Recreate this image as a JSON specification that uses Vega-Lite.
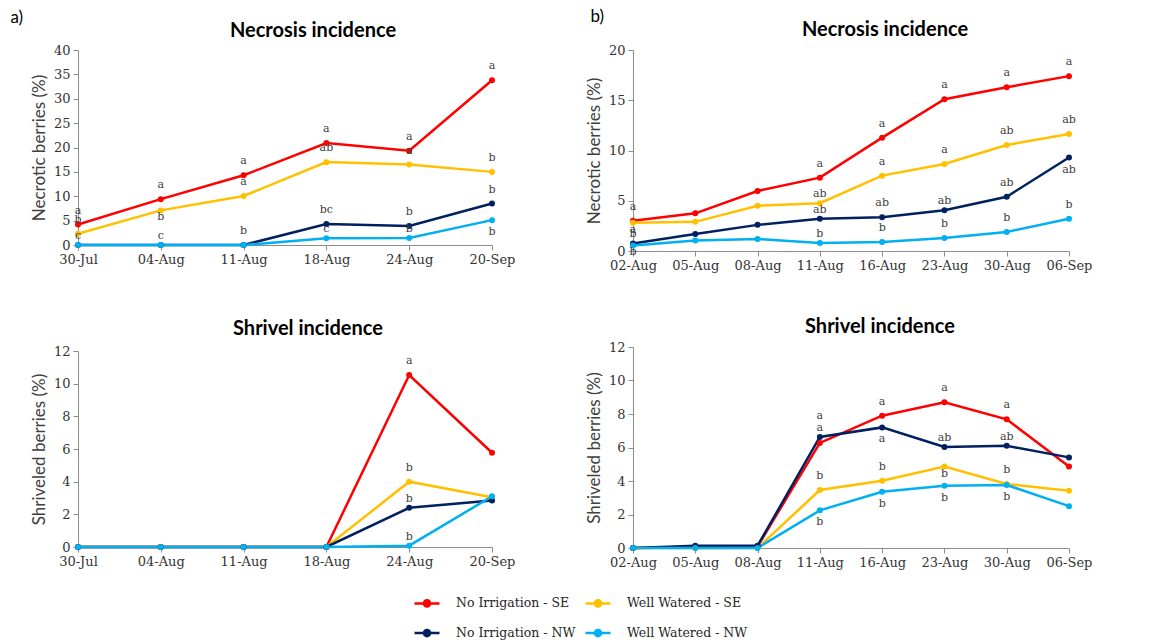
{
  "$schema": "https://vega.github.io/schema/vega-lite/v6.json",
  "background": "white",
  "padding": {"left": 10, "top": 8, "right": 5, "bottom": 5},
  "config": {
    "view": {"stroke": null},
    "axis": {"labelFont": "DejaVu Serif", "labelFontSize": 13, "labelColor": "#333333", "titleFont": "Lato", "titleFontSize": 17, "titleFontWeight": "normal", "titleColor": "#404040", "domainColor": "#8c8c8c", "tickColor": "#8c8c8c", "grid": false, "tickSize": 5, "labelPadding": 3},
    "axisX": {"labelAngle": 0, "title": null},
    "axisY": {"titlePadding": 5},
    "title": {"font": "Lato", "fontWeight": "bold", "fontSize": 20, "color": "#000000", "frame": "group"},
    "line": {"strokeWidth": 2.5},
    "point": {"filled": true, "size": 36, "opacity": 1},
    "text": {"font": "DejaVu Serif", "fontSize": 11, "color": "#404040", "baseline": "middle"}
  },
  "data": {"values": [
    {"panel": "aN", "date": "30-Jul", "series": "No Irrigation - SE", "value": 4.2, "letter": "a", "pos": "above"},
    {"panel": "aN", "date": "04-Aug", "series": "No Irrigation - SE", "value": 9.4, "letter": "a", "pos": "above"},
    {"panel": "aN", "date": "11-Aug", "series": "No Irrigation - SE", "value": 14.3, "letter": "a", "pos": "above"},
    {"panel": "aN", "date": "18-Aug", "series": "No Irrigation - SE", "value": 20.9, "letter": "a", "pos": "above"},
    {"panel": "aN", "date": "24-Aug", "series": "No Irrigation - SE", "value": 19.35, "letter": "a", "pos": "above"},
    {"panel": "aN", "date": "20-Sep", "series": "No Irrigation - SE", "value": 33.8, "letter": "a", "pos": "above"},
    {"panel": "aN", "date": "30-Jul", "series": "Well Watered - SE", "value": 2.3, "letter": "b", "pos": "above"},
    {"panel": "aN", "date": "04-Aug", "series": "Well Watered - SE", "value": 7.1, "letter": "b", "pos": "belownear"},
    {"panel": "aN", "date": "11-Aug", "series": "Well Watered - SE", "value": 10.05, "letter": "a", "pos": "above"},
    {"panel": "aN", "date": "18-Aug", "series": "Well Watered - SE", "value": 17.0, "letter": "ab", "pos": "above"},
    {"panel": "aN", "date": "24-Aug", "series": "Well Watered - SE", "value": 16.5, "letter": "a", "pos": "above"},
    {"panel": "aN", "date": "20-Sep", "series": "Well Watered - SE", "value": 15.0, "letter": "b", "pos": "above"},
    {"panel": "aN", "date": "30-Jul", "series": "No Irrigation - NW", "value": 0, "letter": null, "pos": null},
    {"panel": "aN", "date": "04-Aug", "series": "No Irrigation - NW", "value": 0, "letter": null, "pos": null},
    {"panel": "aN", "date": "11-Aug", "series": "No Irrigation - NW", "value": 0, "letter": null, "pos": null},
    {"panel": "aN", "date": "18-Aug", "series": "No Irrigation - NW", "value": 4.3, "letter": "bc", "pos": "above"},
    {"panel": "aN", "date": "24-Aug", "series": "No Irrigation - NW", "value": 3.9, "letter": "b", "pos": "above"},
    {"panel": "aN", "date": "20-Sep", "series": "No Irrigation - NW", "value": 8.5, "letter": "b", "pos": "above"},
    {"panel": "aN", "date": "30-Jul", "series": "Well Watered - NW", "value": 0, "letter": "c", "pos": "near"},
    {"panel": "aN", "date": "04-Aug", "series": "Well Watered - NW", "value": 0, "letter": "c", "pos": "near"},
    {"panel": "aN", "date": "11-Aug", "series": "Well Watered - NW", "value": 0, "letter": "b", "pos": "above"},
    {"panel": "aN", "date": "18-Aug", "series": "Well Watered - NW", "value": 1.4, "letter": "c", "pos": "near"},
    {"panel": "aN", "date": "24-Aug", "series": "Well Watered - NW", "value": 1.45, "letter": "b", "pos": "near"},
    {"panel": "aN", "date": "20-Sep", "series": "Well Watered - NW", "value": 5.1, "letter": "b", "pos": "below"},

    {"panel": "aS", "date": "30-Jul", "series": "No Irrigation - SE", "value": 0, "letter": null, "pos": null},
    {"panel": "aS", "date": "04-Aug", "series": "No Irrigation - SE", "value": 0, "letter": null, "pos": null},
    {"panel": "aS", "date": "11-Aug", "series": "No Irrigation - SE", "value": 0, "letter": null, "pos": null},
    {"panel": "aS", "date": "18-Aug", "series": "No Irrigation - SE", "value": 0, "letter": null, "pos": null},
    {"panel": "aS", "date": "24-Aug", "series": "No Irrigation - SE", "value": 10.53, "letter": "a", "pos": "above"},
    {"panel": "aS", "date": "20-Sep", "series": "No Irrigation - SE", "value": 5.77, "letter": null, "pos": null},
    {"panel": "aS", "date": "30-Jul", "series": "Well Watered - SE", "value": 0, "letter": null, "pos": null},
    {"panel": "aS", "date": "04-Aug", "series": "Well Watered - SE", "value": 0, "letter": null, "pos": null},
    {"panel": "aS", "date": "11-Aug", "series": "Well Watered - SE", "value": 0, "letter": null, "pos": null},
    {"panel": "aS", "date": "18-Aug", "series": "Well Watered - SE", "value": 0, "letter": null, "pos": null},
    {"panel": "aS", "date": "24-Aug", "series": "Well Watered - SE", "value": 4.0, "letter": "b", "pos": "above"},
    {"panel": "aS", "date": "20-Sep", "series": "Well Watered - SE", "value": 3.05, "letter": null, "pos": null},
    {"panel": "aS", "date": "30-Jul", "series": "No Irrigation - NW", "value": 0, "letter": null, "pos": null},
    {"panel": "aS", "date": "04-Aug", "series": "No Irrigation - NW", "value": 0, "letter": null, "pos": null},
    {"panel": "aS", "date": "11-Aug", "series": "No Irrigation - NW", "value": 0, "letter": null, "pos": null},
    {"panel": "aS", "date": "18-Aug", "series": "No Irrigation - NW", "value": 0, "letter": null, "pos": null},
    {"panel": "aS", "date": "24-Aug", "series": "No Irrigation - NW", "value": 2.4, "letter": "b", "pos": "near"},
    {"panel": "aS", "date": "20-Sep", "series": "No Irrigation - NW", "value": 2.85, "letter": null, "pos": null},
    {"panel": "aS", "date": "30-Jul", "series": "Well Watered - NW", "value": 0, "letter": null, "pos": null},
    {"panel": "aS", "date": "04-Aug", "series": "Well Watered - NW", "value": 0, "letter": null, "pos": null},
    {"panel": "aS", "date": "11-Aug", "series": "Well Watered - NW", "value": 0, "letter": null, "pos": null},
    {"panel": "aS", "date": "18-Aug", "series": "Well Watered - NW", "value": 0, "letter": null, "pos": null},
    {"panel": "aS", "date": "24-Aug", "series": "Well Watered - NW", "value": 0.08, "letter": "b", "pos": "near"},
    {"panel": "aS", "date": "20-Sep", "series": "Well Watered - NW", "value": 3.1, "letter": null, "pos": null},

    {"panel": "bN", "date": "02-Aug", "series": "No Irrigation - SE", "value": 3.0, "letter": "a", "pos": "above"},
    {"panel": "bN", "date": "05-Aug", "series": "No Irrigation - SE", "value": 3.75, "letter": null, "pos": null},
    {"panel": "bN", "date": "08-Aug", "series": "No Irrigation - SE", "value": 5.97, "letter": null, "pos": null},
    {"panel": "bN", "date": "11-Aug", "series": "No Irrigation - SE", "value": 7.3, "letter": "a", "pos": "above"},
    {"panel": "bN", "date": "16-Aug", "series": "No Irrigation - SE", "value": 11.28, "letter": "a", "pos": "above"},
    {"panel": "bN", "date": "23-Aug", "series": "No Irrigation - SE", "value": 15.1, "letter": "a", "pos": "above"},
    {"panel": "bN", "date": "30-Aug", "series": "No Irrigation - SE", "value": 16.3, "letter": "a", "pos": "above"},
    {"panel": "bN", "date": "06-Sep", "series": "No Irrigation - SE", "value": 17.4, "letter": "a", "pos": "above"},
    {"panel": "bN", "date": "02-Aug", "series": "Well Watered - SE", "value": 2.8, "letter": "a", "pos": "belownear"},
    {"panel": "bN", "date": "05-Aug", "series": "Well Watered - SE", "value": 2.9, "letter": null, "pos": null},
    {"panel": "bN", "date": "08-Aug", "series": "Well Watered - SE", "value": 4.5, "letter": null, "pos": null},
    {"panel": "bN", "date": "11-Aug", "series": "Well Watered - SE", "value": 4.75, "letter": "ab", "pos": "near"},
    {"panel": "bN", "date": "16-Aug", "series": "Well Watered - SE", "value": 7.5, "letter": "a", "pos": "above"},
    {"panel": "bN", "date": "23-Aug", "series": "Well Watered - SE", "value": 8.65, "letter": "a", "pos": "above"},
    {"panel": "bN", "date": "30-Aug", "series": "Well Watered - SE", "value": 10.55, "letter": "ab", "pos": "above"},
    {"panel": "bN", "date": "06-Sep", "series": "Well Watered - SE", "value": 11.65, "letter": "ab", "pos": "above"},
    {"panel": "bN", "date": "02-Aug", "series": "No Irrigation - NW", "value": 0.75, "letter": "b", "pos": "near"},
    {"panel": "bN", "date": "05-Aug", "series": "No Irrigation - NW", "value": 1.7, "letter": null, "pos": null},
    {"panel": "bN", "date": "08-Aug", "series": "No Irrigation - NW", "value": 2.6, "letter": null, "pos": null},
    {"panel": "bN", "date": "11-Aug", "series": "No Irrigation - NW", "value": 3.2, "letter": "ab", "pos": "near"},
    {"panel": "bN", "date": "16-Aug", "series": "No Irrigation - NW", "value": 3.35, "letter": "ab", "pos": "above"},
    {"panel": "bN", "date": "23-Aug", "series": "No Irrigation - NW", "value": 4.05, "letter": "ab", "pos": "near"},
    {"panel": "bN", "date": "30-Aug", "series": "No Irrigation - NW", "value": 5.4, "letter": "ab", "pos": "above"},
    {"panel": "bN", "date": "06-Sep", "series": "No Irrigation - NW", "value": 9.3, "letter": "ab", "pos": "below"},
    {"panel": "bN", "date": "02-Aug", "series": "Well Watered - NW", "value": 0.55, "letter": "b", "pos": "belownear"},
    {"panel": "bN", "date": "05-Aug", "series": "Well Watered - NW", "value": 1.05, "letter": null, "pos": null},
    {"panel": "bN", "date": "08-Aug", "series": "Well Watered - NW", "value": 1.2, "letter": null, "pos": null},
    {"panel": "bN", "date": "11-Aug", "series": "Well Watered - NW", "value": 0.8, "letter": "b", "pos": "near"},
    {"panel": "bN", "date": "16-Aug", "series": "Well Watered - NW", "value": 0.9, "letter": "b", "pos": "above"},
    {"panel": "bN", "date": "23-Aug", "series": "Well Watered - NW", "value": 1.3, "letter": "b", "pos": "above"},
    {"panel": "bN", "date": "30-Aug", "series": "Well Watered - NW", "value": 1.9, "letter": "b", "pos": "above"},
    {"panel": "bN", "date": "06-Sep", "series": "Well Watered - NW", "value": 3.2, "letter": "b", "pos": "above"},

    {"panel": "bS", "date": "02-Aug", "series": "No Irrigation - SE", "value": 0, "letter": null, "pos": null},
    {"panel": "bS", "date": "05-Aug", "series": "No Irrigation - SE", "value": 0.05, "letter": null, "pos": null},
    {"panel": "bS", "date": "08-Aug", "series": "No Irrigation - SE", "value": 0.1, "letter": null, "pos": null},
    {"panel": "bS", "date": "11-Aug", "series": "No Irrigation - SE", "value": 6.27, "letter": "a", "pos": "far"},
    {"panel": "bS", "date": "16-Aug", "series": "No Irrigation - SE", "value": 7.9, "letter": "a", "pos": "above"},
    {"panel": "bS", "date": "23-Aug", "series": "No Irrigation - SE", "value": 8.7, "letter": "a", "pos": "above"},
    {"panel": "bS", "date": "30-Aug", "series": "No Irrigation - SE", "value": 7.68, "letter": "a", "pos": "above"},
    {"panel": "bS", "date": "06-Sep", "series": "No Irrigation - SE", "value": 4.86, "letter": null, "pos": null},
    {"panel": "bS", "date": "02-Aug", "series": "Well Watered - SE", "value": 0, "letter": null, "pos": null},
    {"panel": "bS", "date": "05-Aug", "series": "Well Watered - SE", "value": 0, "letter": null, "pos": null},
    {"panel": "bS", "date": "08-Aug", "series": "Well Watered - SE", "value": 0, "letter": null, "pos": null},
    {"panel": "bS", "date": "11-Aug", "series": "Well Watered - SE", "value": 3.46, "letter": "b", "pos": "above"},
    {"panel": "bS", "date": "16-Aug", "series": "Well Watered - SE", "value": 4.02, "letter": "b", "pos": "above"},
    {"panel": "bS", "date": "23-Aug", "series": "Well Watered - SE", "value": 4.86, "letter": "b", "pos": "belownear"},
    {"panel": "bS", "date": "30-Aug", "series": "Well Watered - SE", "value": 3.82, "letter": "b", "pos": "above"},
    {"panel": "bS", "date": "06-Sep", "series": "Well Watered - SE", "value": 3.42, "letter": null, "pos": null},
    {"panel": "bS", "date": "02-Aug", "series": "No Irrigation - NW", "value": 0, "letter": null, "pos": null},
    {"panel": "bS", "date": "05-Aug", "series": "No Irrigation - NW", "value": 0.14, "letter": null, "pos": null},
    {"panel": "bS", "date": "08-Aug", "series": "No Irrigation - NW", "value": 0.14, "letter": null, "pos": null},
    {"panel": "bS", "date": "11-Aug", "series": "No Irrigation - NW", "value": 6.63, "letter": "a", "pos": "near"},
    {"panel": "bS", "date": "16-Aug", "series": "No Irrigation - NW", "value": 7.2, "letter": "a", "pos": "below"},
    {"panel": "bS", "date": "23-Aug", "series": "No Irrigation - NW", "value": 6.03, "letter": "ab", "pos": "near"},
    {"panel": "bS", "date": "30-Aug", "series": "No Irrigation - NW", "value": 6.1, "letter": "ab", "pos": "near"},
    {"panel": "bS", "date": "06-Sep", "series": "No Irrigation - NW", "value": 5.41, "letter": null, "pos": null},
    {"panel": "bS", "date": "02-Aug", "series": "Well Watered - NW", "value": 0, "letter": null, "pos": null},
    {"panel": "bS", "date": "05-Aug", "series": "Well Watered - NW", "value": 0, "letter": null, "pos": null},
    {"panel": "bS", "date": "08-Aug", "series": "Well Watered - NW", "value": 0, "letter": null, "pos": null},
    {"panel": "bS", "date": "11-Aug", "series": "Well Watered - NW", "value": 2.25, "letter": "b", "pos": "below"},
    {"panel": "bS", "date": "16-Aug", "series": "Well Watered - NW", "value": 3.36, "letter": "b", "pos": "below"},
    {"panel": "bS", "date": "23-Aug", "series": "Well Watered - NW", "value": 3.72, "letter": "b", "pos": "below"},
    {"panel": "bS", "date": "30-Aug", "series": "Well Watered - NW", "value": 3.76, "letter": "b", "pos": "below"},
    {"panel": "bS", "date": "06-Sep", "series": "Well Watered - NW", "value": 2.5, "letter": null, "pos": null}
  ]},
  "resolve": {"scale": {"color": "shared"}, "legend": {"color": "shared"}},
  "spacing": 70,
  "hconcat": [
    {
      "title": {"text": "a)", "anchor": "start", "font": "Lato", "fontWeight": "normal", "fontSize": 17, "frame": "bounds", "offset": -6, "dx": -20},
      "spacing": 53,
      "vconcat": [
        {
          "width": 414, "height": 195,
          "title": {"text": "Necrosis incidence", "dx": 28, "offset": 3},
          "transform": [{"filter": "datum.panel === 'aN'"}],
          "encoding": {
            "x": {"field": "date", "type": "ordinal", "sort": null, "scale": {"type": "point", "padding": 0}},
            "y": {"field": "value", "type": "quantitative", "scale": {"domain": [0, 40], "nice": false}, "axis": {"values": [0, 5, 10, 15, 20, 25, 30, 35, 40], "title": "Necrotic berries (%)"}}
          },
          "layer": [
            {"mark": "line", "encoding": {"color": {"field": "series", "type": "nominal", "scale": {"domain": ["No Irrigation - SE", "No Irrigation - NW", "Well Watered - SE", "Well Watered - NW"], "range": ["#FF0000", "#002060", "#FFC000", "#00B0F0"]}, "legend": {"title": null, "orient": "none", "legendX": 335, "legendY": 539, "columns": 2, "symbolType": "M-1,0H1M0.25,0A0.25,0.25,0,1,1,-0.25,0A0.25,0.25,0,1,1,0.25,0", "symbolSize": 625, "symbolStrokeWidth": 2.5, "labelFont": "DejaVu Serif", "labelFontSize": 12.5, "labelColor": "#262626", "rowPadding": 7, "columnPadding": 4, "labelOffset": 15, "labelLimit": 300, "encode": {"symbols": {"update": {"fill": {"scale": "color", "field": "value"}, "stroke": {"scale": "color", "field": "value"}}}}}}}},
            {"mark": "point", "encoding": {"color": {"field": "series", "type": "nominal", "scale": {"domain": ["No Irrigation - SE", "No Irrigation - NW", "Well Watered - SE", "Well Watered - NW"], "range": ["#FF0000", "#002060", "#FFC000", "#00B0F0"]}}}},
            {"transform": [{"filter": "datum.pos === 'above'"}], "mark": {"type": "text", "dy": -14}, "encoding": {"text": {"field": "letter"}}},
            {"transform": [{"filter": "datum.pos === 'near'"}], "mark": {"type": "text", "dy": -9}, "encoding": {"text": {"field": "letter"}}},
            {"transform": [{"filter": "datum.pos === 'below'"}], "mark": {"type": "text", "dy": 12}, "encoding": {"text": {"field": "letter"}}},
            {"transform": [{"filter": "datum.pos === 'belownear'"}], "mark": {"type": "text", "dy": 7}, "encoding": {"text": {"field": "letter"}}}
          ]
        },
        {
          "width": 414, "height": 196,
          "title": {"text": "Shrivel incidence", "dx": 23, "offset": 6},
          "transform": [{"filter": "datum.panel === 'aS'"}],
          "encoding": {
            "x": {"field": "date", "type": "ordinal", "sort": null, "scale": {"type": "point", "padding": 0}},
            "y": {"field": "value", "type": "quantitative", "scale": {"domain": [0, 12], "nice": false}, "axis": {"values": [0, 2, 4, 6, 8, 10, 12], "title": "Shriveled berries (%)"}}
          },
          "layer": [
            {"mark": "line", "encoding": {"color": {"field": "series", "type": "nominal", "scale": {"domain": ["No Irrigation - SE", "No Irrigation - NW", "Well Watered - SE", "Well Watered - NW"], "range": ["#FF0000", "#002060", "#FFC000", "#00B0F0"]}}}},
            {"mark": "point", "encoding": {"color": {"field": "series", "type": "nominal", "scale": {"domain": ["No Irrigation - SE", "No Irrigation - NW", "Well Watered - SE", "Well Watered - NW"], "range": ["#FF0000", "#002060", "#FFC000", "#00B0F0"]}}}},
            {"transform": [{"filter": "datum.pos === 'above'"}], "mark": {"type": "text", "dy": -14}, "encoding": {"text": {"field": "letter"}}},
            {"transform": [{"filter": "datum.pos === 'near'"}], "mark": {"type": "text", "dy": -9}, "encoding": {"text": {"field": "letter"}}}
          ]
        }
      ]
    },
    {
      "title": {"text": "b)", "anchor": "start", "font": "Lato", "fontWeight": "normal", "fontSize": 17, "frame": "bounds", "offset": -6, "dx": 5},
      "spacing": 45,
      "vconcat": [
        {
          "width": 436, "height": 201,
          "title": {"text": "Necrosis incidence", "dx": 34, "offset": 4},
          "transform": [{"filter": "datum.panel === 'bN'"}],
          "encoding": {
            "x": {"field": "date", "type": "ordinal", "sort": null, "scale": {"type": "point", "padding": 0}},
            "y": {"field": "value", "type": "quantitative", "scale": {"domain": [0, 20], "nice": false}, "axis": {"values": [0, 5, 10, 15, 20], "title": "Necrotic berries (%)"}}
          },
          "layer": [
            {"mark": "line", "encoding": {"color": {"field": "series", "type": "nominal", "scale": {"domain": ["No Irrigation - SE", "No Irrigation - NW", "Well Watered - SE", "Well Watered - NW"], "range": ["#FF0000", "#002060", "#FFC000", "#00B0F0"]}}}},
            {"mark": "point", "encoding": {"color": {"field": "series", "type": "nominal", "scale": {"domain": ["No Irrigation - SE", "No Irrigation - NW", "Well Watered - SE", "Well Watered - NW"], "range": ["#FF0000", "#002060", "#FFC000", "#00B0F0"]}}}},
            {"transform": [{"filter": "datum.pos === 'above'"}], "mark": {"type": "text", "dy": -14}, "encoding": {"text": {"field": "letter"}}},
            {"transform": [{"filter": "datum.pos === 'near'"}], "mark": {"type": "text", "dy": -9}, "encoding": {"text": {"field": "letter"}}},
            {"transform": [{"filter": "datum.pos === 'below'"}], "mark": {"type": "text", "dy": 12}, "encoding": {"text": {"field": "letter"}}},
            {"transform": [{"filter": "datum.pos === 'belownear'"}], "mark": {"type": "text", "dy": 7}, "encoding": {"text": {"field": "letter"}}}
          ]
        },
        {
          "width": 436, "height": 201,
          "title": {"text": "Shrivel incidence", "dx": 29, "offset": 4},
          "transform": [{"filter": "datum.panel === 'bS'"}],
          "encoding": {
            "x": {"field": "date", "type": "ordinal", "sort": null, "scale": {"type": "point", "padding": 0}},
            "y": {"field": "value", "type": "quantitative", "scale": {"domain": [0, 12], "nice": false}, "axis": {"values": [0, 2, 4, 6, 8, 10, 12], "title": "Shriveled berries (%)"}}
          },
          "layer": [
            {"mark": "line", "encoding": {"color": {"field": "series", "type": "nominal", "scale": {"domain": ["No Irrigation - SE", "No Irrigation - NW", "Well Watered - SE", "Well Watered - NW"], "range": ["#FF0000", "#002060", "#FFC000", "#00B0F0"]}}}},
            {"mark": "point", "encoding": {"color": {"field": "series", "type": "nominal", "scale": {"domain": ["No Irrigation - SE", "No Irrigation - NW", "Well Watered - SE", "Well Watered - NW"], "range": ["#FF0000", "#002060", "#FFC000", "#00B0F0"]}}}},
            {"transform": [{"filter": "datum.pos === 'above'"}], "mark": {"type": "text", "dy": -14}, "encoding": {"text": {"field": "letter"}}},
            {"transform": [{"filter": "datum.pos === 'near'"}], "mark": {"type": "text", "dy": -9}, "encoding": {"text": {"field": "letter"}}},
            {"transform": [{"filter": "datum.pos === 'below'"}], "mark": {"type": "text", "dy": 12}, "encoding": {"text": {"field": "letter"}}},
            {"transform": [{"filter": "datum.pos === 'belownear'"}], "mark": {"type": "text", "dy": 7}, "encoding": {"text": {"field": "letter"}}},
            {"transform": [{"filter": "datum.pos === 'far'"}], "mark": {"type": "text", "dy": -27}, "encoding": {"text": {"field": "letter"}}}
          ]
        }
      ]
    }
  ]
}
